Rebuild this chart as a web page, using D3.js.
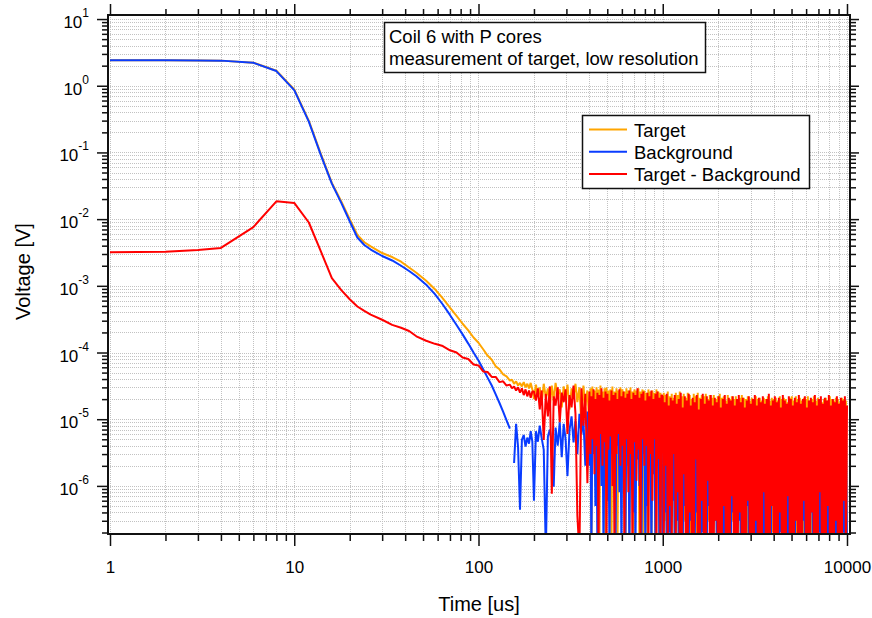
<!DOCTYPE html>
<html>
<head>
<meta charset="utf-8">
<title>Coil 6 with P cores</title>
<script src="https://cdn.jsdelivr.net/npm/d3@7"></script>
<style>
  body { margin: 0; background: #fff; }
  svg { display: block; font-family: "Liberation Sans", Arial, sans-serif; }
</style>
</head>
<body>
<svg id="chart" width="872" height="618"></svg>
<script>
// ---- data (time in us, voltage in V) ----
const seriesNames = ['Target', 'Background', 'Target - Background'];
const annotationLines = ['Coil 6 with P cores', 'measurement of target, low resolution'];
const xTickValues = [1, 10, 100, 1000, 10000];
const xTickLabels = ['1', '10', '100', '1000', '10000'];
const yTickValues = [10, 1, 0.1, 0.01, 1e-3, 1e-4, 1e-5, 1e-6];
const yTickExponents = ['1', '0', '-1', '-2', '-3', '-4', '-5', '-6'];

// smooth decay part
const timeEarly = [1, 2, 3, 4, 6, 8, 10, 12, 14, 16, 18, 20, 22, 24, 26, 30, 34, 38, 42, 46,
  52, 58, 64, 70, 76, 82, 88, 94, 100, 106, 112, 118, 124, 130, 136, 142, 148,
  152, 156, 160, 164, 168, 172, 176, 180, 184, 188, 192, 196];

const targetEarly = [2.42, 2.42, 2.40, 2.38, 2.22, 1.68, 0.88, 0.298, 0.092, 0.035, 0.0184, 0.0100,
  0.0058, 0.0045, 0.0039, 0.0031, 0.0027, 0.0023, 1.88e-3, 1.57e-3,
  1.19e-3, 8.9e-4, 6.5e-4, 4.7e-4, 3.55e-4, 2.7e-4, 2.15e-4, 1.68e-4, 1.4e-4, 1.12e-4, 9.0e-5, 7.8e-5,
  6.2e-5, 5.6e-5, 4.7e-5, 4.4e-5, 3.8e-5,
  3.9e-5, 3.4e-5, 3.7e-5, 3.2e-5, 3.5e-5, 3.1e-5, 3.6e-5, 3.0e-5, 3.4e-5, 2.9e-5, 3.5e-5, 2.8e-5];

const backgroundEarly = [2.42, 2.42, 2.40, 2.38, 2.21, 1.66, 0.86, 0.289, 0.089, 0.034, 0.0175, 0.0093,
  0.0053, 0.0041, 0.0035, 0.0028, 0.0024, 0.0020, 1.67e-3, 1.39e-3,
  1.04e-3, 7.5e-4, 5.25e-4, 3.66e-4, 2.59e-4, 1.87e-4, 1.36e-4, 1.0e-4, 7.6e-5, 5.6e-5, 4.2e-5, 3.2e-5,
  2.35e-5, 1.75e-5, 1.3e-5, 9.6e-6, 7.2e-6,
  null, 2.2e-6, 8.5e-6, 3.8e-6, 4.4e-7, 4.9e-6, 5.8e-6, 3.9e-6, 5.3e-6, 4.3e-6, 6.6e-6, 4.6e-6];

const differenceEarly = [3.2e-3, 3.25e-3, 3.45e-3, 3.7e-3, 7.6e-3, 0.0185, 0.0175, 0.0089, 0.0032, 0.0013,
  8.6e-4, 6.3e-4, 4.9e-4, 4.2e-4, 3.7e-4, 3.1e-4, 2.6e-4, 2.35e-4, 2.1e-4, 1.75e-4,
  1.5e-4, 1.35e-4, 1.25e-4, 1.08e-4, 1.0e-4, 8.4e-5, 8.0e-5, 6.6e-5, 6.4e-5, 5.2e-5, 5.1e-5, 4.3e-5,
  4.3e-5, 3.6e-5, 3.7e-5, 3.2e-5, 3.3e-5,
  2.9e-5, 3.1e-5, 2.7e-5, 3.0e-5, 2.5e-5, 2.9e-5, 2.3e-5, 2.8e-5, 2.2e-5, 2.7e-5, 2.1e-5, 2.6e-5];

// noise floor, 200 .. 390 us
const timeNoise = [200, 205, 210, 215, 220, 226, 232, 238, 244, 250,
  256, 262, 269, 276, 283, 290, 297, 304, 312, 320,
  328, 336, 344, 353, 362, 371, 380, 390];

const targetNoise = [
  2.0e-5, 3.3e-5, 2.2e-5, 3.0e-5, 1.7e-5, 3.4e-5, 2.1e-5, 2.9e-5, 1.6e-5, 3.2e-5,
  1.9e-5, 3.5e-5, 2.3e-5, 2.8e-5, 1.5e-5, 3.1e-5, 2.0e-5, 3.3e-5, 1.4e-5, 2.9e-5,
  2.2e-5, 3.4e-5, 1.8e-5, 3.0e-5, 8e-6, 3.2e-5, 1.6e-5, 2.7e-5];

const backgroundNoise = [
  6e-7, 6.6e-6, 4.6e-6, 8e-6, 5.3e-6, 3.5e-6, 1e-7, 5.5e-6, 7e-6, 4.2e-6,
  9.7e-7, 7.5e-6, 4e-6, 9e-6, 2.7e-6, 8.5e-6, 5e-6, 1.4e-6, 7e-6, 1.1e-5,
  4.5e-6, 9.5e-6, 3e-6, 1.2e-5, 6e-6, 1.0e-5, 2e-6, 1.3e-5];

const differenceNoise = [
  2.6e-5, 1.9e-5, 2.9e-5, 1.4e-5, 2.7e-5, 4.9e-6, 2.4e-5, 1.1e-5, 3.1e-5, 7.6e-7,
  2.2e-5, 1.6e-5, 3.0e-5, 9e-6, 2.5e-5, 1.8e-5, 2.8e-5, 6e-6, 2.3e-5, 1.5e-5,
  3.2e-5, 1.2e-5, 3.6e-7, 1e-7, 2.9e-5, 8e-6, 2.4e-5, 1.1e-6];

// noise floor, 400 .. 10000 us (denser sampling)
const timeDense = [400, 405, 410, 415, 421, 426, 431, 437, 442, 448,
  453, 459, 465, 471, 477, 483, 489, 495, 501, 507,
  514, 520, 527, 533, 540, 547, 554, 561, 568, 575,
  582, 589, 597, 604, 612, 619, 627, 635, 643, 651,
  659, 668, 676, 685, 693, 702, 711, 720, 729, 738,
  747, 757, 766, 776, 785, 795, 805, 816, 826, 836,
  847, 857, 868, 879, 890, 901, 913, 924, 936, 947,
  959, 972, 984,
  1000, 1013, 1025, 1038, 1051, 1065, 1078, 1091, 1105, 1119,
  1133, 1147, 1162, 1177, 1191, 1206, 1221, 1237, 1252, 1268,
  1284, 1300, 1317, 1333, 1350, 1367, 1384, 1402, 1419, 1437,
  1455, 1473, 1492, 1511, 1530, 1549, 1569, 1588, 1608, 1628,
  1649, 1670, 1691, 1712, 1734, 1755, 1778, 1800, 1823, 1846,
  1869, 1892, 1916, 1940, 1965, 1989, 2014, 2040, 2065, 2091,
  2118, 2144, 2171, 2199, 2226, 2254, 2283, 2311, 2341, 2370,
  2400, 2430, 2461, 2492, 2523, 2555, 2587, 2620, 2652, 2686,
  2720, 2754, 2789, 2824, 2859, 2895, 2932, 2968, 3006, 3044,
  3082, 3121, 3160, 3200, 3240, 3281, 3322, 3364, 3406, 3449,
  3493, 3537, 3581, 3626, 3672, 3718, 3765, 3812, 3860, 3909,
  3958, 4008, 4058, 4109, 4161, 4213, 4266, 4320, 4374, 4429,
  4485, 4542, 4599, 4657, 4715, 4775, 4835, 4895, 4957, 5019,
  5083, 5147, 5211, 5277, 5343, 5411, 5479, 5548, 5618, 5688,
  5760, 5832, 5906, 5980, 6055, 6132, 6209, 6287, 6366, 6446,
  6527, 6609, 6693, 6777, 6862, 6949, 7036, 7125, 7214, 7305,
  7397, 7490, 7584, 7680, 7777, 7874, 7973, 8074, 8176, 8278,
  8383, 8488, 8595, 8703, 8813, 8924, 9036, 9150, 9265, 9381,
  9499, 9619, 9740, 9863, 10000];

const targetDense = [
  8e-6, 2.9e-5, 1e-7, 3.1e-5, 6e-6, 2.7e-5, 1e-6, 3.0e-5, 4e-6, 2.8e-5,
  1e-7, 3.2e-5, 7e-6, 2.6e-5, 2e-6, 2.9e-5, 1e-7, 3.0e-5, 5e-6, 2.7e-5,
  9e-6, 2.8e-5, 1e-7, 3.1e-5, 3e-6, 2.6e-5, 6e-6, 2.9e-5, 1e-7, 2.7e-5,
  4e-6, 3.0e-5, 8e-7, 2.8e-5, 7e-6, 2.6e-5, 1e-7, 2.9e-5, 2e-6, 2.7e-5,
  1e-7, 3.0e-5, 5e-6, 2.6e-5, 1e-7, 2.8e-5, 3e-6, 2.7e-5, 8e-6, 2.9e-5,
  1e-7, 2.6e-5, 4e-6, 2.8e-5, 1e-7, 2.7e-5, 6e-6, 2.5e-5, 1e-7, 2.8e-5,
  3e-6, 2.6e-5, 1e-7, 2.7e-5, 5e-6, 2.5e-5, 1e-7, 2.8e-5, 2e-6, 2.6e-5,
  1e-7, 2.5e-5, 4e-6,
  1e-7, 2.5e-5, 3e-7, 2.3e-5, 1e-7, 2.6e-5, 5e-7, 2.2e-5, 1e-7, 2.4e-5,
  2e-6, 2.1e-5, 1e-7, 2.5e-5, 4e-7, 2.3e-5, 1e-7, 2.6e-5, 1e-6, 2.2e-5,
  1e-7, 2.4e-5, 3e-7, 2.1e-5, 1e-7, 2.5e-5, 6e-7, 2.3e-5, 1e-7, 2.0e-5,
  1e-7, 2.4e-5, 5e-7, 2.2e-5, 1e-7, 2.5e-5, 2e-7, 2.1e-5, 1e-7, 2.3e-5,
  4e-7, 2.2e-5, 1e-7, 2.4e-5, 1e-7, 2.0e-5, 3e-7, 2.3e-5, 1e-7, 2.1e-5,
  1e-7, 2.3e-5, 6e-7, 2.0e-5, 1e-7, 2.2e-5, 1e-7, 2.4e-5, 2e-7, 2.1e-5,
  1e-7, 2.2e-5, 1e-7, 1.9e-5, 4e-7, 2.3e-5, 1e-7, 2.0e-5, 1e-7, 2.2e-5,
  3e-7, 2.0e-5, 1e-7, 2.2e-5, 1e-7, 1.9e-5, 5e-7, 2.1e-5, 1e-7, 2.3e-5,
  1e-7, 2.1e-5, 2e-7, 2.0e-5, 1e-7, 2.2e-5, 1e-7, 1.9e-5, 4e-7, 2.1e-5,
  1e-7, 1.9e-5, 1e-7, 2.2e-5, 3e-7, 2.0e-5, 1e-7, 2.1e-5, 1e-7, 1.9e-5,
  1e-7, 2.1e-5, 5e-7, 2.0e-5, 1e-7, 2.2e-5, 1e-7, 1.9e-5, 1e-7, 2.1e-5,
  2e-7, 2.0e-5, 1e-7, 2.1e-5, 1e-7, 1.9e-5, 1e-7, 2.2e-5, 3e-7, 2.0e-5,
  1e-7, 2.1e-5, 1e-7, 2.0e-5, 1e-7, 1.8e-5, 1e-7, 2.1e-5, 1e-7, 2.2e-5,
  4e-7, 1.9e-5, 1e-7, 2.2e-5, 1e-7, 2.0e-5, 1e-7, 2.1e-5, 2e-7, 1.9e-5,
  1e-7, 2.1e-5, 1e-7, 2.0e-5, 3e-7, 2.2e-5, 1e-7, 1.9e-5, 1e-7, 2.0e-5,
  1e-7, 2.2e-5, 2e-7, 1.9e-5, 1e-7, 2.1e-5, 1e-7, 2.0e-5, 1e-7, 1.8e-5,
  3e-7, 2.0e-5, 1e-7, 2.1e-5, 1e-7, 1.9e-5, 1e-7, 2.2e-5, 1e-7, 2.0e-5,
  1e-7, 1.9e-5, 1e-7, 2.1e-5, 2e-7, 2.0e-5, 1e-7, 1.8e-5, 1e-7, 2.1e-5,
  1e-7, 2.0e-5, 1e-7, 1.9e-5, 1e-7];

const backgroundDense = [
  2e-6, 1.2e-5, 1e-7, 9e-6, 3e-6, 1.4e-5, 5e-7, 1.0e-5, 1e-7, 1.3e-5,
  4e-6, 1.1e-5, 1e-6, 1.3e-5, 1e-7, 9e-6, 2.5e-6, 1.2e-5, 6e-7, 1.0e-5,
  1e-7, 1.4e-5, 3e-6, 1.1e-5, 1.5e-6, 1.2e-5, 1e-7, 9e-6, 4e-6, 1.3e-5,
  8e-7, 1.0e-5, 1e-7, 1.2e-5, 2e-6, 1.4e-5, 1e-7, 1.1e-5, 3e-6, 9e-6,
  1e-7, 1.3e-5, 1.5e-6, 1.0e-5, 4e-7, 1.2e-5, 1e-7, 1.1e-5, 2.5e-6, 1.3e-5,
  1e-6, 9e-6, 1e-7, 1.2e-5, 3e-6, 1.0e-5, 1e-7, 1.4e-5, 5e-7, 1.1e-5,
  2e-6, 1.2e-5, 1e-7, 1.0e-5, 1.5e-6, 1.3e-5, 1e-7, 9e-6, 3e-6, 1.1e-5,
  1e-7, 1.2e-5, 2e-6,
  1e-7, 1.1e-5, 4e-7, 9e-6, 1e-7, 1.2e-5, 2e-7, 1.0e-5, 1e-7, 1.1e-5,
  6e-7, 1.0e-5, 1e-7, 1.2e-5, 3e-7, 9e-6, 1e-7, 1.1e-5, 1e-7, 1.0e-5,
  1e-7, 1.2e-5, 5e-7, 1.0e-5, 1e-7, 1.1e-5, 1e-7, 9e-6, 3e-7, 1.2e-5,
  1e-7, 1.0e-5, 1e-7, 1.1e-5, 4e-7, 1.2e-5, 1e-7, 1.0e-5, 1e-7, 9e-6,
  2e-7, 1.1e-5, 1e-7, 1.0e-5, 1e-7, 1.2e-5, 5e-7, 9e-6, 1e-7, 1.1e-5,
  1e-7, 1.0e-5, 3e-7, 1.2e-5, 1e-7, 1.1e-5, 1e-7, 1.0e-5, 6e-7, 9e-6,
  1e-7, 1.2e-5, 1e-7, 1.0e-5, 2e-7, 1.1e-5, 1e-7, 9e-6, 1e-7, 1.2e-5,
  4e-7, 1.0e-5, 1e-7, 1.1e-5, 1e-7, 1.2e-5, 3e-7, 1.0e-5, 1e-7, 9e-6,
  1e-7, 1.1e-5, 1e-7, 1.2e-5, 5e-7, 1.0e-5, 1e-7, 1.1e-5, 1e-7, 9e-6,
  2e-7, 1.2e-5, 1e-7, 1.0e-5, 1e-7, 1.1e-5, 4e-7, 9e-6, 1e-7, 1.2e-5,
  1e-7, 1.0e-5, 1e-7, 1.1e-5, 3e-7, 1.2e-5, 1e-7, 1.0e-5, 1e-7, 9e-6,
  5e-7, 1.1e-5, 1e-7, 1.2e-5, 1e-7, 1.0e-5, 1e-7, 9e-6, 2e-7, 1.1e-5,
  1e-7, 1.2e-5, 4e-7, 1.0e-5, 1e-7, 1.1e-5, 1e-7, 1.2e-5, 1e-7, 9e-6,
  1e-7, 1.0e-5, 1e-7, 1.1e-5, 6e-7, 1.2e-5, 1e-7, 1.0e-5, 1e-7, 9e-6,
  3e-7, 1.1e-5, 1e-7, 1.2e-5, 1e-7, 1.0e-5, 1e-7, 9e-6, 4e-7, 1.1e-5,
  1e-7, 1.2e-5, 1e-7, 1.0e-5, 1e-7, 1.1e-5, 2e-7, 1.2e-5, 1e-7, 9e-6,
  1e-7, 1.0e-5, 5e-7, 1.1e-5, 1e-7, 1.2e-5, 1e-7, 1.0e-5, 3e-7, 9e-6,
  1e-7, 1.1e-5, 1e-7, 1.2e-5, 1e-7, 1.0e-5, 4e-7, 1.1e-5, 1e-7, 9e-6,
  2e-7, 1.2e-5, 1e-7, 1.0e-5, 1e-7];

const differenceDense = [
  2.6e-5, 3e-6, 2.2e-5, 5e-6, 2.8e-5, 1.5e-6, 2.0e-5, 4e-6, 2.5e-5, 1e-7,
  2.3e-5, 6e-6, 2.9e-5, 2e-6, 2.1e-5, 4.5e-6, 2.6e-5, 1e-7, 2.4e-5, 3.5e-6,
  1.9e-5, 5.5e-6, 2.7e-5, 1e-6, 2.3e-5, 1e-7, 2.5e-5, 3e-6, 2.0e-5, 6e-6,
  2.8e-5, 2e-6, 2.2e-5, 4e-6, 2.6e-5, 1e-7, 2.1e-5, 5e-6, 2.4e-5, 8e-7,
  2.7e-5, 3e-6, 2.0e-5, 1e-7, 2.5e-5, 4.5e-6, 2.3e-5, 1.2e-6, 2.9e-5, 3.5e-6,
  2.1e-5, 1e-7, 2.4e-5, 5e-6, 2.6e-5, 2e-6, 1.9e-5, 4e-6, 2.5e-5, 1e-7,
  2.2e-5, 3e-6, 2.7e-5, 6e-7, 2.0e-5, 5e-6, 2.4e-5, 1e-7, 2.6e-5, 2.5e-6,
  2.1e-5, 1e-7, 2.3e-5,
  2.2e-5, 1e-7, 1.8e-5, 2e-6, 2.4e-5, 1e-7, 1.6e-5, 5e-7, 2.1e-5, 1e-7,
  1.9e-5, 3e-6, 2.3e-5, 1e-7, 1.7e-5, 8e-7, 2.0e-5, 1e-7, 2.5e-5, 1e-7,
  1.5e-5, 1.5e-6, 2.2e-5, 1e-7, 1.9e-5, 1e-7, 2.4e-5, 4e-7, 1.6e-5, 1e-7,
  2.1e-5, 1e-7, 1.8e-5, 2.5e-6, 2.3e-5, 1e-7, 1.4e-5, 1e-7, 2.0e-5, 6e-7,
  2.4e-5, 1e-7, 1.7e-5, 1e-7, 2.2e-5, 1.2e-6, 1.9e-5, 1e-7, 2.3e-5, 1e-7,
  1.6e-5, 1e-7, 2.1e-5, 3e-7, 1.8e-5, 1e-7, 2.2e-5, 1e-7, 1.5e-5, 1e-7,
  2.0e-5, 5e-7, 2.3e-5, 1e-7, 1.7e-5, 1e-7, 2.1e-5, 1e-7, 1.9e-5, 7e-7,
  2.2e-5, 1e-7, 1.6e-5, 1e-7, 2.0e-5, 1e-7, 2.3e-5, 4e-7, 1.8e-5, 1e-7,
  2.1e-5, 1e-7, 1.5e-5, 1e-7, 1.9e-5, 6e-7, 2.2e-5, 1e-7, 1.7e-5, 1e-7,
  2.0e-5, 1e-7, 2.3e-5, 3e-7, 1.6e-5, 1e-7, 2.1e-5, 1e-7, 1.8e-5, 1e-7,
  2.2e-5, 8e-7, 1.7e-5, 1e-7, 2.0e-5, 1e-7, 2.4e-5, 1e-7, 1.6e-5, 5e-7,
  1.9e-5, 1e-7, 2.2e-5, 1e-7, 1.8e-5, 1e-7, 2.1e-5, 4e-7, 1.5e-5, 1e-7,
  2.3e-5, 1e-7, 1.9e-5, 1e-7, 1.7e-5, 7e-7, 2.2e-5, 1e-7, 2.0e-5, 1e-7,
  1.6e-5, 1e-7, 2.1e-5, 3e-7, 1.8e-5, 1e-7, 2.3e-5, 1e-7, 1.7e-5, 1e-7,
  2.0e-5, 6e-7, 2.2e-5, 1e-7, 1.5e-5, 1e-7, 1.9e-5, 1e-7, 2.1e-5, 4e-7,
  1.8e-5, 1e-7, 2.3e-5, 1e-7, 1.6e-5, 1e-7, 2.0e-5, 8e-7, 2.2e-5, 1e-7,
  1.7e-5, 1e-7, 2.1e-5, 1e-7, 1.9e-5, 5e-7, 2.3e-5, 1e-7, 1.6e-5, 1e-7,
  2.0e-5, 1e-7, 1.8e-5, 3e-7, 2.2e-5, 1e-7, 1.7e-5, 1e-7, 2.1e-5, 1e-7,
  1.9e-5, 6e-7, 2.2e-5, 1e-7, 1.6e-5];

const seriesColors = ['#ffa500', '#0a3cff', '#ff0000'];

// ---- build series ----
function pairUp(times, values) {
    return times.map((t, i) => ({ t: t, v: values[i] }));
}

const series = [
    { name: seriesNames[0], color: seriesColors[0],
      points: pairUp(timeEarly, targetEarly)
          .concat(pairUp(timeNoise, targetNoise), pairUp(timeDense, targetDense)) },
    { name: seriesNames[1], color: seriesColors[1],
      points: pairUp(timeEarly, backgroundEarly)
          .concat(pairUp(timeNoise, backgroundNoise), pairUp(timeDense, backgroundDense)) },
    { name: seriesNames[2], color: seriesColors[2],
      points: pairUp(timeEarly, differenceEarly)
          .concat(pairUp(timeNoise, differenceNoise), pairUp(timeDense, differenceDense)) }
];

// ---- layout ----
const svg = d3.select('#chart');
const width = 872;
const height = 618;
const plot = { left: 108, right: 850, top: 15, bottom: 534 };

svg.append('rect').attr('width', width).attr('height', height).attr('fill', '#fff');

const x = d3.scaleLog().domain([0.9753, 10383]).range([plot.left, plot.right]);
const y = d3.scaleLog().domain([1.9e-7, 11.5]).range([plot.bottom, plot.top]);

const isMajor = v => Math.abs(Math.log10(v) - Math.round(Math.log10(v))) < 1e-6;
const xAll = x.ticks();
const yAll = y.ticks();
const xMinor = xAll.filter(v => !isMajor(v));
const yMinor = yAll.filter(v => !isMajor(v));

// Draw grid
const grid = svg.append('g')
    .attr('stroke', '#c2c2c2')
    .attr('stroke-width', 1)
    .attr('stroke-dasharray', '1,1');

grid.selectAll('.gx')
    .data(xAll.filter(v => x(v) > plot.left + 1 && x(v) < plot.right - 1))
    .join('line')
    .attr('x1', d => Math.round(x(d)) + 0.5)
    .attr('x2', d => Math.round(x(d)) + 0.5)
    .attr('y1', plot.top)
    .attr('y2', plot.bottom);

grid.selectAll('.gy')
    .data(yAll.filter(v => y(v) > plot.top + 1 && y(v) < plot.bottom - 1))
    .join('line')
    .attr('x1', plot.left)
    .attr('x2', plot.right)
    .attr('y1', d => Math.round(y(d)) + 0.5)
    .attr('y2', d => Math.round(y(d)) + 0.5);

// Clip for traces
svg.append('defs').append('clipPath').attr('id', 'plot-clip')
    .append('rect')
    .attr('x', plot.left)
    .attr('y', plot.top)
    .attr('width', plot.right - plot.left)
    .attr('height', plot.bottom - plot.top);

const line = d3.line()
    .defined(d => d.v != null && d.v > 0)
    .x(d => x(d.t))
    .y(d => y(d.v));

svg.append('g')
    .attr('clip-path', 'url(#plot-clip)')
    .selectAll('path')
    .data(series)
    .join('path')
    .attr('d', d => line(d.points))
    .attr('fill', 'none')
    .attr('stroke', d => d.color)
    .attr('stroke-width', 2)
    .attr('stroke-linejoin', 'bevel');

// Axes: ticks on all four sides
function ticks(axis, values, size, transform) {
    const g = svg.append('g')
        .attr('transform', transform)
        .call(axis.tickValues(values).tickSize(size).tickFormat(''));
    g.select('.domain').remove();
    g.selectAll('line').attr('stroke', '#111').attr('stroke-width', 1.5);
    return g;
}

ticks(d3.axisBottom(x), xMinor, 7, `translate(0,${plot.bottom})`);
ticks(d3.axisTop(x), xMinor, 6, `translate(0,${plot.top})`);
ticks(d3.axisTop(x), xTickValues, 11, `translate(0,${plot.top})`);
ticks(d3.axisLeft(y), yMinor, 6, `translate(${plot.left},0)`);
ticks(d3.axisRight(y), yMinor, 6, `translate(${plot.right},0)`);
ticks(d3.axisRight(y), yTickValues, 9, `translate(${plot.right},0)`);
ticks(d3.axisLeft(y), yTickValues, 11, `translate(${plot.left},0)`);

const xAxis = svg.append('g')
    .attr('transform', `translate(0,${plot.bottom})`)
    .call(d3.axisBottom(x)
        .tickValues(xTickValues)
        .tickSize(12)
        .tickPadding(15)
        .tickFormat((d, i) => xTickLabels[i]));
xAxis.select('.domain').remove();
xAxis.selectAll('line').attr('stroke', '#111').attr('stroke-width', 1.5);
xAxis.selectAll('text')
    .attr('font-family', '"Liberation Sans", Arial, sans-serif')
    .attr('font-size', 17)
    .attr('fill', '#000');

// Y labels as 10 with superscript exponent
const yLabels = svg.append('g')
    .selectAll('text')
    .data(yTickValues)
    .join('text')
    .attr('x', 89)
    .attr('y', d => y(d) + 9)
    .attr('text-anchor', 'end')
    .attr('font-size', 17)
    .attr('fill', '#000');
yLabels.append('tspan').text('10');
yLabels.append('tspan')
    .attr('dy', -11)
    .attr('font-size', 12)
    .text((d, i) => yTickExponents[i]);

// Frame
svg.append('rect')
    .attr('x', plot.left)
    .attr('y', plot.top)
    .attr('width', plot.right - plot.left)
    .attr('height', plot.bottom - plot.top)
    .attr('fill', 'none')
    .attr('stroke', '#111')
    .attr('stroke-width', 2);

// Axis titles
svg.append('text')
    .attr('x', (plot.left + plot.right) / 2)
    .attr('y', 611)
    .attr('text-anchor', 'middle')
    .attr('font-size', 20)
    .text('Time [us]');

svg.append('text')
    .attr('transform', `translate(30,${(plot.top + plot.bottom) / 2 - 3}) rotate(-90)`)
    .attr('text-anchor', 'middle')
    .attr('font-size', 20)
    .text('Voltage [V]');

// Annotation box
const note = svg.append('g');
note.append('rect')
    .attr('x', 384.5)
    .attr('y', 22.5)
    .attr('width', 321)
    .attr('height', 50)
    .attr('fill', '#fff')
    .attr('stroke', '#111')
    .attr('stroke-width', 1.5);
note.selectAll('text')
    .data(annotationLines)
    .join('text')
    .attr('x', 389)
    .attr('y', (d, i) => 43 + i * 21.5)
    .attr('font-size', 18.5)
    .text(d => d);

// Legend
const legend = svg.append('g');
legend.append('rect')
    .attr('x', 582.5)
    .attr('y', 115.5)
    .attr('width', 227)
    .attr('height', 73)
    .attr('fill', '#fff')
    .attr('stroke', '#111')
    .attr('stroke-width', 1.5);

const item = legend.selectAll('.item')
    .data(series)
    .join('g')
    .attr('class', 'item')
    .attr('transform', (d, i) => `translate(0,${129.5 + i * 22.3})`);
item.append('line')
    .attr('x1', 589)
    .attr('x2', 627)
    .attr('stroke', d => d.color)
    .attr('stroke-width', 2);
item.append('text')
    .attr('x', 634)
    .attr('y', 7)
    .attr('font-size', 18.5)
    .text(d => d.name);
</script>
</body>
</html>
